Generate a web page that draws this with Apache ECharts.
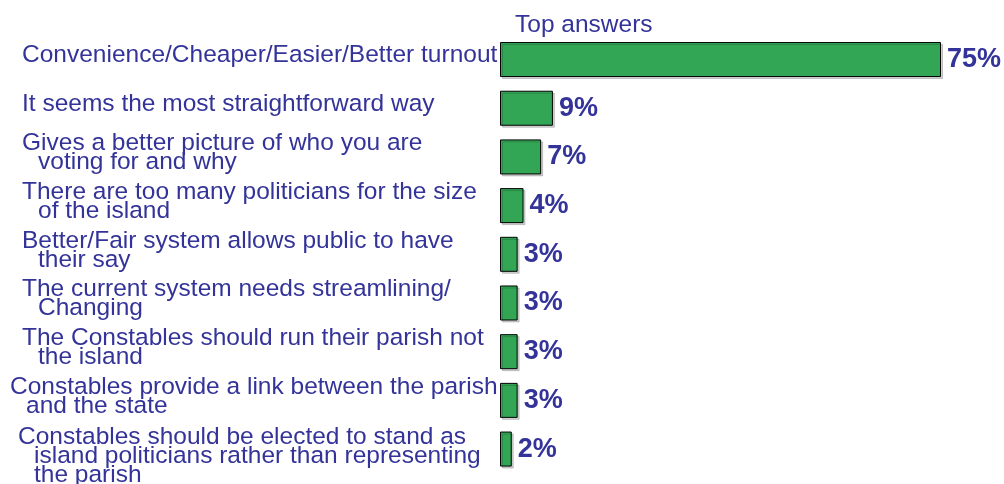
<!DOCTYPE html>
<html>
<head>
<meta charset="utf-8">
<script src="https://cdn.jsdelivr.net/npm/echarts@6/dist/echarts.min.js"></script>
<style>
html,body{margin:0;padding:0;background:#fff;}
#chart{width:1004px;height:484px;}
</style>
</head>
<body>
<div id="chart"></div>
<script>
const chartTitle = 'Top answers';
const categories = [
  'Convenience/Cheaper/Easier/Better turnout',
  'It seems the most straightforward way',
  'Gives a better picture of who you are\nvoting for and why',
  'There are too many politicians for the size\nof the island',
  'Better/Fair system allows public to have\ntheir say',
  'The current system needs streamlining/\nChanging',
  'The Constables should run their parish not\nthe island',
  'Constables provide a link between the parish\nand the state',
  'Constables should be elected to stand as\nisland politicians rather than representing\nthe parish'
];
const values = [75, 9, 7, 4, 3, 3, 3, 3, 2];

const TEXT = '#333399';
const FONT = '"Liberation Sans", Arial, sans-serif';

const chart = echarts.init(document.getElementById('chart'), null, {renderer: 'canvas'});

const yData = categories.map(function (c, i) {
  if (i === 7) return {value: c, textStyle: {align: 'left', padding: [0, 0, 8, 0]}};
  if (i === 8) return {value: c, textStyle: {align: 'left', padding: [14, 0, 0, 8]}};
  return c;
});

chart.setOption({
  backgroundColor: '#ffffff',
  animation: false,
  title: {
    text: chartTitle,
    left: 510,
    top: 8,
    textStyle: {color: TEXT, fontFamily: FONT, fontSize: 24.5, fontWeight: 'normal'}
  },
  grid: {left: 500, right: 33.6, top: 35.2, bottom: 10.6, containLabel: false, outerBoundsMode: 'none'},
  xAxis: {
    type: 'value', min: 0, max: 80, show: false
  },
  yAxis: {
    type: 'category',
    inverse: true,
    data: yData,
    axisLine: {show: false},
    axisTick: {show: false},
    splitLine: {show: false},
    axisLabel: {
      interval: 0,
      align: 'left',
      margin: 490,
      padding: [0, 0, 8, 12],
      color: TEXT,
      fontFamily: FONT,
      fontSize: 24.5,
      lineHeight: 19,
      formatter: function (v) {
        return v.split('\n').map(function (l, i) {
          return (i === 0 ? '{a|' : '{b|') + l + '}';
        }).join('\n');
      },
      rich: {
        a: {color: TEXT, fontFamily: FONT, fontSize: 24.5, lineHeight: 19},
        b: {color: TEXT, fontFamily: FONT, fontSize: 24.5, lineHeight: 19, padding: [0, 0, 0, 16]}
      }
    }
  },
  series: [{
    type: 'bar',
    data: values,
    barWidth: 35,
    itemStyle: {
      color: '#33a656',
      borderColor: '#000000',
      borderWidth: 1,
      shadowColor: 'rgba(0,0,0,0.18)',
      shadowOffsetX: 2,
      shadowOffsetY: 2,
      shadowBlur: 0
    },
    label: {
      show: true,
      position: 'right',
      distance: 6,
      formatter: '{c}%',
      color: TEXT,
      fontFamily: FONT,
      fontSize: 27,
      fontWeight: 'bold'
    }
  }]
});
</script>
</body>
</html>
